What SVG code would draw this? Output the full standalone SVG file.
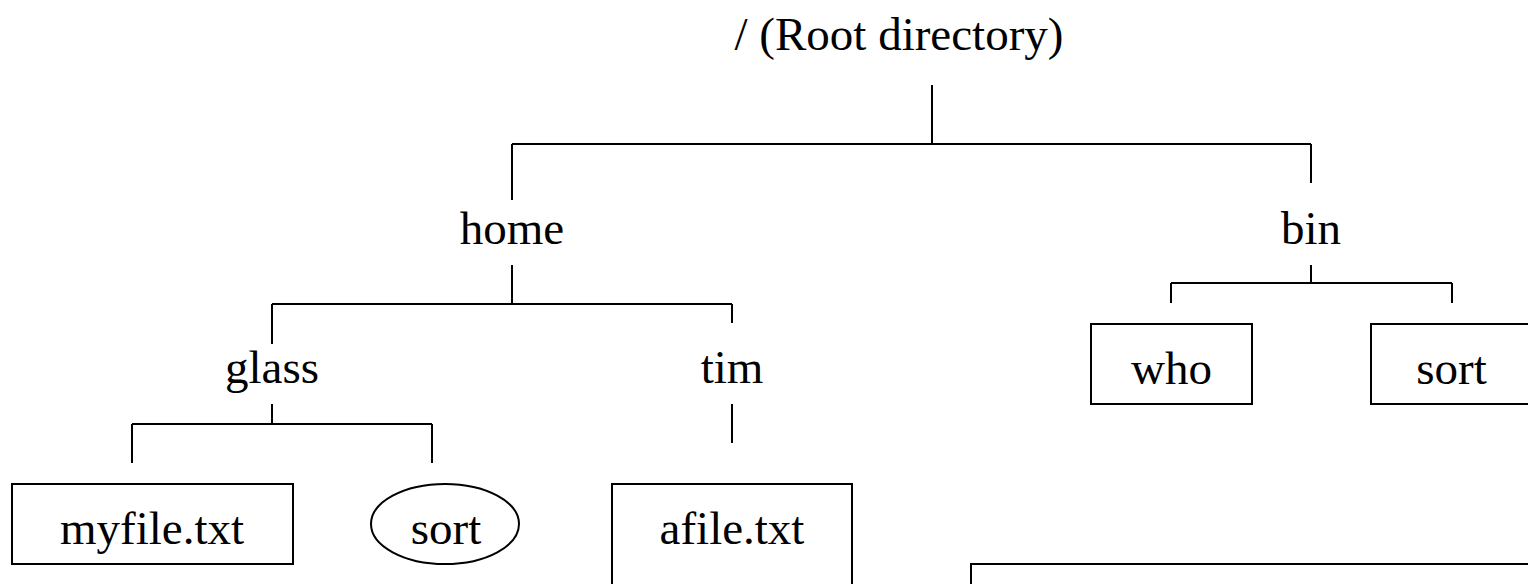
<svg xmlns="http://www.w3.org/2000/svg" width="1528" height="584" viewBox="0 0 1528 584">
<style>
  text { font-family: "Liberation Serif", "Times New Roman", serif; font-size: 47px; fill: #000; text-anchor: middle; }
  .box { fill: #fff; stroke: #000; stroke-width: 2; }
  .conn { fill: none; stroke: #000; stroke-width: 2; }
</style>
<rect width="1528" height="584" fill="#fff"/>
<g id="connectors">
  <path class="conn" d="M932 85 V144 M512 144 H1311 M512 144 V200 M1311 144 V183"/>
  <path class="conn" d="M512 265 V304 M272 304 H732 M272 304 V344 M732 304 V323"/>
  <path class="conn" d="M1311 265 V283 M1171 283 H1452 M1171 283 V303 M1452 283 V303"/>
  <path class="conn" d="M272 404 V424 M132 424 H432 M132 424 V463 M432 424 V463"/>
  <path class="conn" d="M732 404 V443"/>
</g>
<g id="root"><text x="899" y="50">/ (Root directory)</text></g>
<g id="home"><text x="512" y="244">home</text></g>
<g id="bin"><text x="1311" y="244">bin</text></g>
<g id="glass"><text x="272" y="383">glass</text></g>
<g id="tim"><text x="732" y="383">tim</text></g>
<g id="who"><rect class="box" x="1091" y="324" width="161" height="80"/><text x="1171.5" y="384">who</text></g>
<g id="bin-sort"><rect class="box" x="1371" y="324" width="161" height="80"/><text x="1451.5" y="384">sort</text></g>
<g id="myfile"><rect class="box" x="12" y="484" width="281" height="80"/><text x="152" y="544">myfile.txt</text></g>
<g id="glass-sort"><ellipse class="box" cx="445" cy="524" rx="74" ry="40"/><text x="446" y="544">sort</text></g>
<g id="afile"><rect class="box" x="612" y="484" width="240" height="110"/><text x="732" y="544">afile.txt</text></g>
<g id="bottom-box"><rect class="box" x="971" y="564" width="600" height="60"/></g>
</svg>
